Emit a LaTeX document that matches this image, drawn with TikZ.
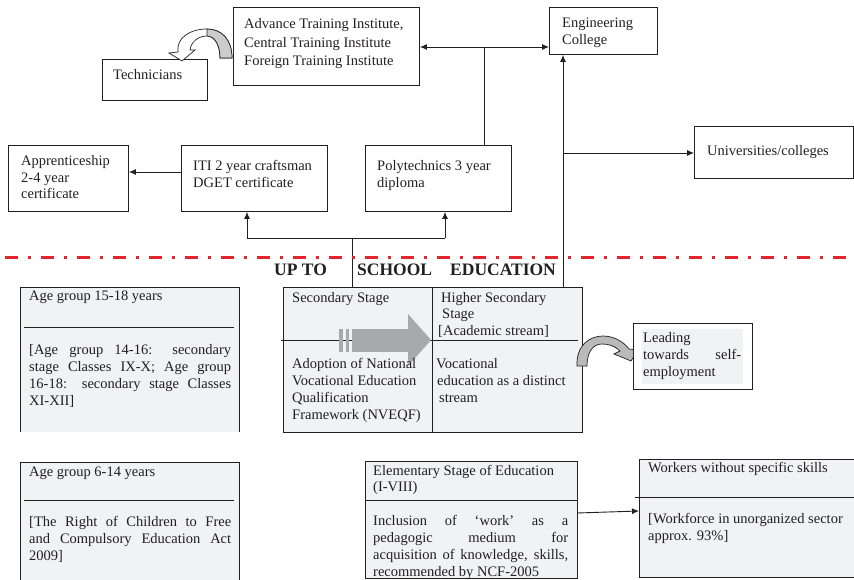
\documentclass[tikz,border=0pt]{standalone}
\usepackage{fontspec}
\setmainfont{Liberation Serif}
\usetikzlibrary{arrows.meta}
\definecolor{boxgray}{HTML}{F1F2F4}
\definecolor{redline}{HTML}{E3262B}
\definecolor{arrgray}{HTML}{A7A9AC}
\definecolor{inkc}{HTML}{231F20}
\newcommand{\vlines}[2]{\vtop{\baselineskip=#1pt\lineskiplimit=-20pt\relax #2}}
\newcommand{\jl}[2]{\hbox to #1pt{\spaceskip=0.25em plus 1fil\relax #2}}
\hfuzz=80pt \hbadness=10000
\tikzset{
  box/.style={draw=inkc, line width=0.9pt, inner sep=0pt, anchor=north west},
  fbox/.style={fill=boxgray, inner sep=0pt, anchor=north west},
  txt/.style={anchor=base west, inner sep=0pt, text=inkc},
  conn/.style={draw=inkc, line width=0.9pt},
  arr/.style={conn, -{Latex[length=7pt,width=6pt]}},
  redline/.style={draw=redline, line width=3pt, dash pattern=on 13pt off 10pt on 3pt off 10pt},
  curvearrow/.style={draw=inkc, line width=0.7pt}
}
\begin{document}
\begin{tikzpicture}[x=1pt,y=-1pt,font=\fontsize{14.5}{17}\selectfont]
\useasboundingbox (0,0) rectangle (854,580);

% ---------- top boxes ----------
\node[box, minimum width=186pt, minimum height=78pt] (ati) at (233,7) {};
\node[txt] (ati-t) at (244,29) {\vlines{18.5}{\hbox{Advance Training Institute,}\hbox{Central Training Institute}\hbox{Foreign Training Institute}}};

\node[box, minimum width=105pt, minimum height=41pt] (tech) at (102,59) {};
\node[txt] (tech-t) at (113,80) {Technicians};

\node[box, minimum width=108pt, minimum height=47pt] (eng) at (549,7) {};
\node[txt] (eng-t) at (562,27.5) {\vlines{17}{\hbox{Engineering}\hbox{College}}};

\node[box, minimum width=159pt, minimum height=52pt] (uni) at (694,126) {};
\node[txt] (uni-t) at (707,156) {Universities/colleges};

\node[box, minimum width=120pt, minimum height=66pt] (app) at (8,145) {};
\node[txt] (app-t) at (21,166) {\vlines{16.5}{\hbox{Apprenticeship}\hbox{2-4 year}\hbox{certificate}}};

\node[box, minimum width=146pt, minimum height=66pt] (iti) at (181,145) {};
\node[txt] (iti-t) at (193,171) {\vlines{17}{\hbox{ITI 2 year craftsman}\hbox{DGET certificate}}};

\node[box, minimum width=146pt, minimum height=66pt] (poly) at (365,145) {};
\node[txt] (poly-t) at (377,171) {\vlines{17}{\hbox{Polytechnics 3 year}\hbox{diploma}}};

% ---------- curved white arrow ATI -> Technicians ----------
\filldraw[curvearrow, fill=white] (178,52) .. controls (176,38) and (190,29) .. (207,29) .. controls (222,29) and (232,40) .. (232,58) -- (220,58) .. controls (220,44) and (214,36) .. (207,36) .. controls (198,36) and (191,42) .. (190,50) -- (195,50) -- (182,61) -- (169,53) -- cycle;
\filldraw[curvearrow, fill=gray!40] (207,29) .. controls (222,29) and (232,40) .. (232,58) -- (220,58) .. controls (220,44) and (214,36) .. (207,36) -- cycle;

% ---------- connectors (upper part) ----------
\coordinate (pj) at (484,47);
\draw[conn] (poly.north -| pj) -- (pj);
\draw[arr] (pj) -- (pj -| ati.east);
\draw[arr] (pj) -- (pj -| eng.west);

\coordinate (ij) at (181,172);
\draw[arr] (ij) -- (ij -| app.east);

\coordinate (tj) at (352,238);
\coordinate (tl) at (247,238);
\coordinate (tr) at (445,238);
\coordinate (tb) at (352,293);
\draw[conn] (tl) -- (tr);
\draw[arr] (tl) -- (tl |- iti.south);
\draw[arr] (tr) -- (tr |- poly.south);
\draw[conn] (tj) -- (tb);

\coordinate (hsTop) at (563,287);
\coordinate (uniJ) at (563,153);
\draw[arr] (hsTop) -- (hsTop |- eng.south);
\draw[arr] (uniJ) -- (uniJ -| uni.west);

% ---------- red dash-dot line ----------
\coordinate (rl) at (5,257.5);
\coordinate (rr) at (854,257.5);
\draw[redline] (rl) -- (rr);

\node[txt, font=\fontsize{17.5}{20}\selectfont\bfseries] (up1) at (274,276) {UP TO};
\node[txt, font=\fontsize{17.5}{20}\selectfont\bfseries] (up2) at (357,276) {SCHOOL};
\node[txt, font=\fontsize{17.5}{20}\selectfont\bfseries] (up3) at (450,276) {EDUCATION};

% ---------- Age group 15-18 ----------
\node[fbox, minimum width=219pt, minimum height=145pt] (age1) at (20,287) {};
\draw[conn] (age1.south west) -- (age1.north west) -- (age1.north east) -- (age1.south east);
\draw[conn] (24,327) -- (234,327);
\node[txt] (age1-h) at (29,300) {Age group 15-18 years};
\node[txt] (age1-p) at (29,354) {\vlines{17}{\jl{202}{[Age group 14-16: secondary}\jl{202}{stage Classes IX-X; Age group}\jl{202}{16-18: secondary stage Classes}\hbox{XI-XII]}}};

% ---------- Secondary / Higher secondary ----------
\node[box, fill=boxgray, minimum width=299pt, minimum height=145pt] (sec) at (283,287) {};
\draw[conn] (432,287) -- (432,432);
\draw[conn] (281,340) -- (578,340);
% striped block arrow
\fill[arrgray] (339,329) rectangle (343,352);
\fill[arrgray] (345.5,329) rectangle (349,352);
\fill[arrgray] (352,329) rectangle (409,352);
\fill[arrgray] (408,314) -- (431,340) -- (408,366) -- cycle;

\node[txt] (sec-h) at (292,302) {Secondary Stage};
\node[txt] (sec-p) at (292,368) {\vlines{17}{\hbox{Adoption of National}\hbox{Vocational Education}\hbox{Qualification}\hbox{Framework (NVEQF)}}};
\node[txt] (hs-h) at (441,302) {\vlines{16.5}{\hbox{Higher Secondary}\hbox{\kern1pt Stage}\hbox{\kern-3pt [Academic stream]}}};
\node[txt] (hs-p) at (436,368) {\vlines{17}{\hbox{Vocational}\hbox{\kern1pt education as a distinct}\hbox{\kern3pt stream}}};

% ---------- curved gray arrow -> Leading ----------
\filldraw[curvearrow, fill=gray!55] (577,366) .. controls (576,346) and (589,336) .. (603,336) .. controls (614,336) and (624,342) .. (629,349) -- (638,350) -- (631,361) -- (614,354) -- (620,351) .. controls (615,346) and (609,344) .. (602,344) .. controls (593,344) and (587,352) .. (587,366) -- cycle;

\node[box, fill=white, minimum width=119pt, minimum height=66pt] (lead) at (633,323) {};
\fill[boxgray] (642,329) rectangle (743,384);
\node[txt] (lead-t) at (643,342) {\vlines{17}{\hbox{Leading}\jl{98}{towards self-}\hbox{employment}}};

% ---------- Age group 6-14 ----------
\node[fbox, minimum width=219pt, minimum height=120pt] (age2) at (20,462) {};
\draw[conn] (age2.south west) -- (age2.north west) -- (age2.north east) -- (age2.south east);
\draw[conn] (24,500) -- (234,500);
\node[txt] (age2-h) at (29,476) {Age group 6-14 years};
\node[txt] (age2-p) at (29,526) {\vlines{17}{\jl{202}{[The Right of Children to Free}\jl{202}{and Compulsory Education Act}\hbox{2009]}}};

% ---------- Elementary ----------
\node[box, fill=boxgray, minimum width=212pt, minimum height=117pt] (elem) at (365,461) {};
\draw[conn] (elem.west |- 0,500) -- (elem.east |- 0,500);
\node[txt] (elem-h) at (373,475) {\vlines{16.5}{\hbox{Elementary Stage of Education}\hbox{(I-VIII)}}};
\node[txt] (elem-p) at (373,525) {\vlines{17}{\jl{195}{Inclusion of `work' as a}\jl{195}{pedagogic medium for}\jl{195}{acquisition of knowledge, skills,}\hbox{recommended by NCF-2005}}};

% ---------- Workers ----------
\node[box, fill=boxgray, minimum width=217pt, minimum height=118pt] (work) at (639,459) {};
\draw[conn] (635,497) -- (856,497);
\node[txt] (work-h) at (648,472) {Workers without specific skills};
\node[txt] (work-p) at (648,523) {\vlines{17}{\hbox{[Workforce in unorganized sector}\hbox{approx. 93\%]}}};

\coordinate (eo) at (577,513);
\coordinate (wi) at (639,511);
\draw[arr] (eo) -- (wi);
\end{tikzpicture}
\end{document}
